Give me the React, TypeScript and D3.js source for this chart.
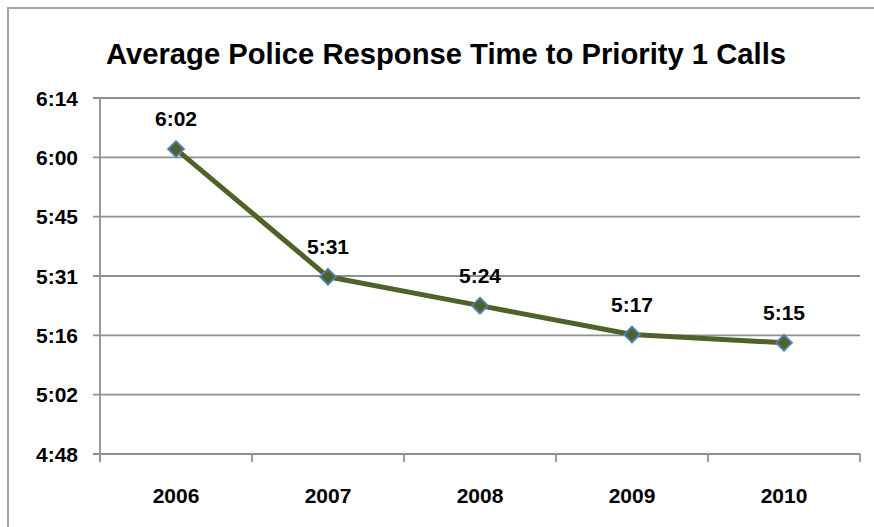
import React from "react";
import * as d3 from "d3";

// Average response time per year, as m:ss
const years = ["2006", "2007", "2008", "2009", "2010"];
const responseTimes = ["6:02", "5:31", "5:24", "5:17", "5:15"];

// Y axis ticks in seconds, with the labels printed beside them
const yTickValues = [288, 302.4, 316.8, 331.2, 345.6, 360, 374.4];
const yTickLabels = ["4:48", "5:02", "5:16", "5:31", "5:45", "6:00", "6:14"];

const title = "Average Police Response Time to Priority 1 Calls";

const toSeconds = (s: string) => {
  const [m, ss] = s.split(":").map(Number);
  return m * 60 + ss;
};

const W = 874;
const H = 527;
const plot = { left: 100, right: 860, top: 98, bottom: 454 };

const FONT = "'Liberation Sans', Arial, sans-serif";
const GRID = "#8f8f8f";
const LINE = "#4F6228";
const MARKER_EDGE = "#4F81BD";

export default function App() {
  const x = d3.scaleBand<string>().domain(years).range([plot.left, plot.right]).padding(0);
  const y = d3
    .scaleLinear()
    .domain([yTickValues[0], yTickValues[yTickValues.length - 1]])
    .range([plot.bottom, plot.top]);

  const points = years.map((yr, i) => ({
    year: yr,
    label: responseTimes[i],
    cx: (x(yr) ?? 0) + x.bandwidth() / 2,
    cy: y(toSeconds(responseTimes[i])),
  }));

  const line = d3
    .line<{ cx: number; cy: number }>()
    .x((d) => d.cx)
    .y((d) => d.cy);

  const diamond = d3.symbol().type(d3.symbolDiamond2).size(2 * 9 * 9);

  const boundaries = [...years.map((yr) => x(yr) ?? 0), plot.right];

  return (
    <svg
      width={W}
      height={H}
      style={{ position: "absolute", left: 0, top: 0, background: "#fff", overflow: "hidden" }}
    >
      {/* chart frame, continuing past the right and bottom edges */}
      <rect x={8} y={8} width={W + 20} height={H + 20} fill="#fff" stroke="#a3a3a3" strokeWidth={2} />

      <text
        x={446}
        y={64}
        textAnchor="middle"
        fontFamily={FONT}
        fontWeight="bold"
        fontSize={30}
        textLength={680}
        lengthAdjust="spacingAndGlyphs"
        fill="#000"
      >
        {title}
      </text>

      {/* horizontal gridlines with tick marks */}
      {yTickValues.map((v, i) => (
        <g key={`g${i}`}>
          <line x1={plot.left - 7} x2={plot.right} y1={y(v)} y2={y(v)} stroke={GRID} strokeWidth={1.8} />
          <text
            x={78}
            y={y(v)}
            dy="0.36em"
            textAnchor="end"
            fontFamily={FONT}
            fontWeight="bold"
            fontSize={21}
            fill="#000"
          >
            {yTickLabels[i]}
          </text>
        </g>
      ))}

      {/* y axis */}
      <line x1={plot.left} x2={plot.left} y1={plot.top} y2={plot.bottom + 8} stroke={GRID} strokeWidth={1.8} />

      {/* x axis tick marks at category boundaries */}
      {boundaries.map((bx, i) => (
        <line key={`t${i}`} x1={bx} x2={bx} y1={plot.bottom} y2={plot.bottom + 8} stroke={GRID} strokeWidth={1.8} />
      ))}

      {years.map((yr) => (
        <text
          key={yr}
          x={(x(yr) ?? 0) + x.bandwidth() / 2}
          y={503}
          textAnchor="middle"
          fontFamily={FONT}
          fontWeight="bold"
          fontSize={21}
          fill="#000"
        >
          {yr}
        </text>
      ))}

      <path d={line(points) ?? ""} fill="none" stroke={LINE} strokeWidth={5} strokeLinejoin="round" />

      {points.map((p) => (
        <g key={p.year}>
          <path
            d={diamond() ?? ""}
            transform={`translate(${p.cx},${p.cy})`}
            fill={LINE}
            stroke={MARKER_EDGE}
            strokeWidth={1.8}
          />
          <text
            x={p.cx}
            y={p.cy - 23}
            textAnchor="middle"
            fontFamily={FONT}
            fontWeight="bold"
            fontSize={21}
            fill="#000"
          >
            {p.label}
          </text>
        </g>
      ))}
    </svg>
  );
}
